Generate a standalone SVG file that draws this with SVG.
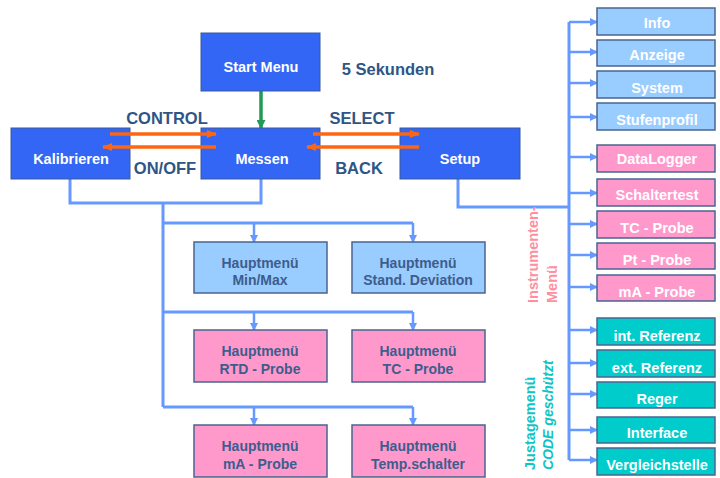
<svg xmlns="http://www.w3.org/2000/svg" width="720" height="478" viewBox="0 0 720 478">
<defs>
<marker id="ab" markerWidth="8" markerHeight="8" refX="7" refY="4" orient="auto" markerUnits="userSpaceOnUse"><path d="M0,0 L8,4 L0,8 Z" fill="#6699ff"/></marker>
<marker id="ao" markerWidth="10" markerHeight="8" refX="9" refY="4" orient="auto" markerUnits="userSpaceOnUse"><path d="M0,0 L10,4 L0,8 Z" fill="#ff6611"/></marker>
<marker id="ag" markerWidth="9" markerHeight="9" refX="8" refY="4.5" orient="auto" markerUnits="userSpaceOnUse"><path d="M0,0 L9,4.5 L0,9 Z" fill="#229955"/></marker>
</defs>
<style>
text{font-family:"Liberation Sans",Arial,sans-serif;font-weight:bold;text-anchor:middle}
.main{fill:#3366f5;stroke:#3a5a9a;stroke-width:1}
.lb{fill:#99ccff;stroke:#4a6490;stroke-width:1.5}
.pk{fill:#ff99cc;stroke:#4a6490;stroke-width:1.5}
.tl{fill:#00cccc;stroke:#4a6490;stroke-width:1.5}
.wt{fill:#ffffff;font-size:14.5px}
.ws{fill:#ffffff;font-size:14.5px}
.dt{fill:#3d5d8d;font-size:14px}
.lab{fill:#2f5585;font-size:16.5px}
.con{fill:none;stroke:#6699ff;stroke-width:3}
.ar{fill:none;stroke:#6699ff;stroke-width:2.5}
.or{stroke:#ff6611;stroke-width:3.5;fill:none}
</style>
<g id="connectors">
<line x1="261" y1="91" x2="261" y2="128" stroke="#229955" stroke-width="3.5" marker-end="url(#ag)"/>
<polyline class="con" points="70,179 70,203 261,203 261,179"/>
<polyline class="con" points="163,203 163,407"/>
<polyline class="con" points="163,223 413,223"/>
<polyline class="con" points="163,312 413,312"/>
<polyline class="con" points="163,407 413,407"/>
<line class="ar" x1="254" y1="223" x2="254" y2="242" marker-end="url(#ab)"/>
<line class="ar" x1="413" y1="223" x2="413" y2="242" marker-end="url(#ab)"/>
<line class="ar" x1="254" y1="312" x2="254" y2="330" marker-end="url(#ab)"/>
<line class="ar" x1="413" y1="312" x2="413" y2="330" marker-end="url(#ab)"/>
<line class="ar" x1="254" y1="407" x2="254" y2="425" marker-end="url(#ab)"/>
<line class="ar" x1="413" y1="407" x2="413" y2="425" marker-end="url(#ab)"/>
<polyline class="con" points="458,179 458,207 569,207"/>
<polyline class="con" points="569,22 569,460"/>
<line class="ar" x1="569" y1="22" x2="597" y2="22" marker-end="url(#ab)"/>
<line class="ar" x1="569" y1="52" x2="597" y2="52" marker-end="url(#ab)"/>
<line class="ar" x1="569" y1="83" x2="597" y2="83" marker-end="url(#ab)"/>
<line class="ar" x1="569" y1="117" x2="597" y2="117" marker-end="url(#ab)"/>
<line class="ar" x1="569" y1="157" x2="597" y2="157" marker-end="url(#ab)"/>
<line class="ar" x1="569" y1="193" x2="597" y2="193" marker-end="url(#ab)"/>
<line class="ar" x1="569" y1="224" x2="597" y2="224" marker-end="url(#ab)"/>
<line class="ar" x1="569" y1="255" x2="597" y2="255" marker-end="url(#ab)"/>
<line class="ar" x1="569" y1="287" x2="597" y2="287" marker-end="url(#ab)"/>
<line class="ar" x1="569" y1="330" x2="597" y2="330" marker-end="url(#ab)"/>
<line class="ar" x1="569" y1="363" x2="597" y2="363" marker-end="url(#ab)"/>
<line class="ar" x1="569" y1="394" x2="597" y2="394" marker-end="url(#ab)"/>
<line class="ar" x1="569" y1="430" x2="597" y2="430" marker-end="url(#ab)"/>
<line class="ar" x1="569" y1="460" x2="597" y2="460" marker-end="url(#ab)"/>
</g>
<g id="start"><rect class="main" x="201" y="33" width="119" height="58"/><text class="wt" x="261" y="72">Start Menu</text></g>
<g id="kalibrieren"><rect class="main" x="11" y="128" width="119" height="51"/><text class="wt" x="71" y="164">Kalibrieren</text></g>
<g id="messen"><rect class="main" x="201" y="128" width="119" height="51"/><text class="wt" x="262" y="164">Messen</text></g>
<g id="setup"><rect class="main" x="400" y="128" width="120" height="51"/><text class="wt" x="460" y="164">Setup</text></g>
<g id="mode-arrows">
<line class="or" x1="110" y1="134" x2="216" y2="134" marker-end="url(#ao)"/>
<line class="or" x1="216" y1="147" x2="103" y2="147" marker-end="url(#ao)"/>
<line class="or" x1="313" y1="134" x2="419" y2="134" marker-end="url(#ao)"/>
<line class="or" x1="419" y1="147" x2="307" y2="147" marker-end="url(#ao)"/>
</g>
<g id="labels">
<text class="lab" x="388" y="75">5 Sekunden</text>
<text class="lab" x="167" y="124">CONTROL</text>
<text class="lab" x="165" y="174">ON/OFF</text>
<text class="lab" x="362" y="124">SELECT</text>
<text class="lab" x="359" y="174">BACK</text>
</g>
<g id="minmax"><rect class="lb" x="194" y="242" width="133" height="51"/><text class="dt" x="260" y="268">Hauptmenü</text><text class="dt" x="260" y="285">Min/Max</text></g>
<g id="stddev"><rect class="lb" x="352" y="242" width="133" height="51"/><text class="dt" x="418" y="268">Hauptmenü</text><text class="dt" x="418" y="285">Stand. Deviation</text></g>
<g id="rtd"><rect class="pk" x="194" y="330" width="133" height="52"/><text class="dt" x="260" y="356">Hauptmenü</text><text class="dt" x="260" y="374">RTD - Probe</text></g>
<g id="tc"><rect class="pk" x="352" y="330" width="133" height="52"/><text class="dt" x="418" y="356">Hauptmenü</text><text class="dt" x="418" y="374">TC - Probe</text></g>
<g id="ma"><rect class="pk" x="194" y="425" width="133" height="52"/><text class="dt" x="260" y="451">Hauptmenü</text><text class="dt" x="260" y="469">mA - Probe</text></g>
<g id="temp"><rect class="pk" x="352" y="425" width="133" height="52"/><text class="dt" x="418" y="451">Hauptmenü</text><text class="dt" x="418" y="469">Temp.schalter</text></g>
<g id="info"><rect class="lb" x="597" y="8" width="118" height="27"/><text class="ws" x="657" y="28">Info</text></g>
<g id="anzeige"><rect class="lb" x="597" y="40" width="118" height="26"/><text class="ws" x="657" y="60">Anzeige</text></g>
<g id="system"><rect class="lb" x="597" y="71" width="118" height="27"/><text class="ws" x="657" y="93">System</text></g>
<g id="stufenprofil"><rect class="lb" x="597" y="103" width="118" height="27"/><text class="ws" x="657" y="125">Stufenprofil</text></g>
<g id="datalogger"><rect class="pk" x="597" y="145" width="118" height="27"/><text class="ws" x="657" y="164">DataLogger</text></g>
<g id="schaltertest"><rect class="pk" x="597" y="179" width="118" height="27"/><text class="ws" x="657" y="200">Schaltertest</text></g>
<g id="tcprobe"><rect class="pk" x="597" y="211" width="118" height="27"/><text class="ws" x="657" y="233">TC - Probe</text></g>
<g id="ptprobe"><rect class="pk" x="597" y="243" width="118" height="26"/><text class="ws" x="657" y="265">Pt - Probe</text></g>
<g id="maprobe"><rect class="pk" x="597" y="275" width="118" height="26"/><text class="ws" x="657" y="297">mA - Probe</text></g>
<g id="intref"><rect class="tl" x="597" y="318" width="118" height="27"/><text class="ws" x="657" y="341">int. Referenz</text></g>
<g id="extref"><rect class="tl" x="597" y="350" width="118" height="27"/><text class="ws" x="657" y="373">ext. Referenz</text></g>
<g id="reger"><rect class="tl" x="597" y="382" width="118" height="26"/><text class="ws" x="657" y="404">Reger</text></g>
<g id="interface"><rect class="tl" x="597" y="417" width="118" height="26"/><text class="ws" x="657" y="438">Interface</text></g>
<g id="vergleich"><rect class="tl" x="597" y="448" width="118" height="27"/><text class="ws" x="657" y="470">Vergleichstelle</text></g>
<g id="sidelabels">
<text transform="translate(538,303) rotate(-90)" style="text-anchor:start;fill:#ff8fa0;font-size:14.5px">Instrumenten-</text>
<text transform="translate(557,303) rotate(-90)" style="text-anchor:start;fill:#ff8fa0;font-size:14.5px">Menü</text>
<text transform="translate(535,470) rotate(-90)" style="text-anchor:start;fill:#11c4c4;font-size:14.5px">Justagemenü</text>
<text transform="translate(553,470) rotate(-90)" style="text-anchor:start;fill:#11c4c4;font-size:14px;font-style:italic">CODE geschützt</text>
</g>
</svg>
